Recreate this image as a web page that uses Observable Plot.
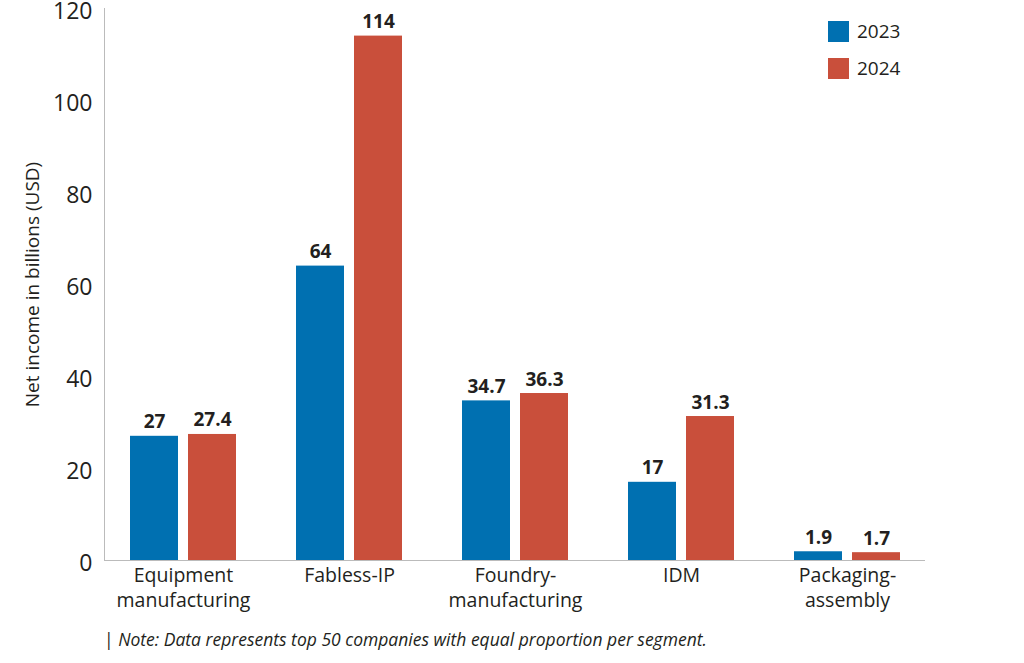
<!DOCTYPE html>
<html>
<head>
<meta charset="utf-8">
<script src="https://cdn.jsdelivr.net/npm/d3@7"></script>
<script src="https://cdn.jsdelivr.net/npm/@observablehq/plot@0.6"></script>
<style>
  html, body { margin: 0; padding: 0; background: #fff; }
  #wrap { position: relative; width: 1024px; height: 663px; font-family: "Open Sans", sans-serif; color: #231f20; }
  .legend { position: absolute; left: 828px; font-size: 19px; display: flex; align-items: center; height: 21px; line-height: 21px; }
  .legend .sw { width: 21px; height: 21px; margin-right: 8px; }
  #note { position: absolute; left: 104px; top: 627px; font-size: 17.5px; color: #231f20; }
  #note i { font-style: italic; }
</style>
</head>
<body>
<div id="wrap">
  <div id="chart"></div>
  <div class="legend" style="top:21px"><div class="sw" style="background:#0070b1"></div><span>2023</span></div>
  <div class="legend" style="top:58px"><div class="sw" style="background:#c94f3b"></div><span>2024</span></div>
  <div id="note">| <i>Note: Data represents top 50 companies with equal proportion per segment.</i></div>
</div>
<script>
const categories = ["Equipment manufacturing", "Fabless-IP", "Foundry-manufacturing", "IDM", "Packaging-assembly"];
const categoryLabels = ["Equipment\nmanufacturing", "Fabless-IP", "Foundry-\nmanufacturing", "IDM", "Packaging-\nassembly"];
const values2023 = [27, 64, 34.7, 17, 1.9];
const values2024 = [27.4, 114, 36.3, 31.3, 1.7];
const yTicks = [0, 20, 40, 60, 80, 100, 120];
const colors = {"2023": "#0070b1", "2024": "#c94f3b"};

const d23 = categories.map((c, i) => ({cat: c, v: values2023[i], label: categoryLabels[i]}));
const d24 = categories.map((c, i) => ({cat: c, v: values2024[i]}));

const chart = Plot.plot({
  width: 1024,
  height: 620,
  marginTop: 8,
  marginBottom: 60,
  marginLeft: 104,
  marginRight: 99,
  style: {fontFamily: "Open Sans, sans-serif", color: "#231f20", background: "#fff", overflow: "visible"},
  x: {type: "band", domain: categories, paddingInner: 0.3634, paddingOuter: 0.147, axis: null},
  y: {domain: [0, 120], ticks: yTicks, label: null},
  marks: [
    Plot.barY(d23, {x: "cat", y: "v", fill: colors["2023"], insetRight: 58}),
    Plot.barY(d24, {x: "cat", y: "v", fill: colors["2024"], insetLeft: 58}),
    Plot.text(d23, {x: "cat", y: "v", text: d => String(d.v), dx: -29, dy: -8, lineAnchor: "bottom", fontWeight: "bold", fontSize: 19, fill: "#231f20"}),
    Plot.text(d24, {x: "cat", y: "v", text: d => String(d.v), dx: 29, dy: -8, lineAnchor: "bottom", fontWeight: "bold", fontSize: 19, fill: "#231f20"}),
    Plot.text(d23, {x: "cat", text: "label", frameAnchor: "bottom", lineAnchor: "top", dy: 4, fontSize: 19.5, lineHeight: 1.28, fill: "#231f20"}),
    Plot.frame({anchor: "left", stroke: "#bbbbbb"}),
    Plot.ruleY([0], {stroke: "#bbbbbb"}),
    Plot.axisY({ticks: yTicks, tickSize: 0, tickPadding: 12, dy: 3, fontSize: 23, label: "Net income in billions (USD)", labelAnchor: "center", labelArrow: "none", labelOffset: 79})
  ]
});
document.getElementById("chart").appendChild(chart);
chart.querySelectorAll("g[aria-label='y-axis label'] text").forEach(t => t.setAttribute("font-size", 19));
</script>
</body>
</html>
